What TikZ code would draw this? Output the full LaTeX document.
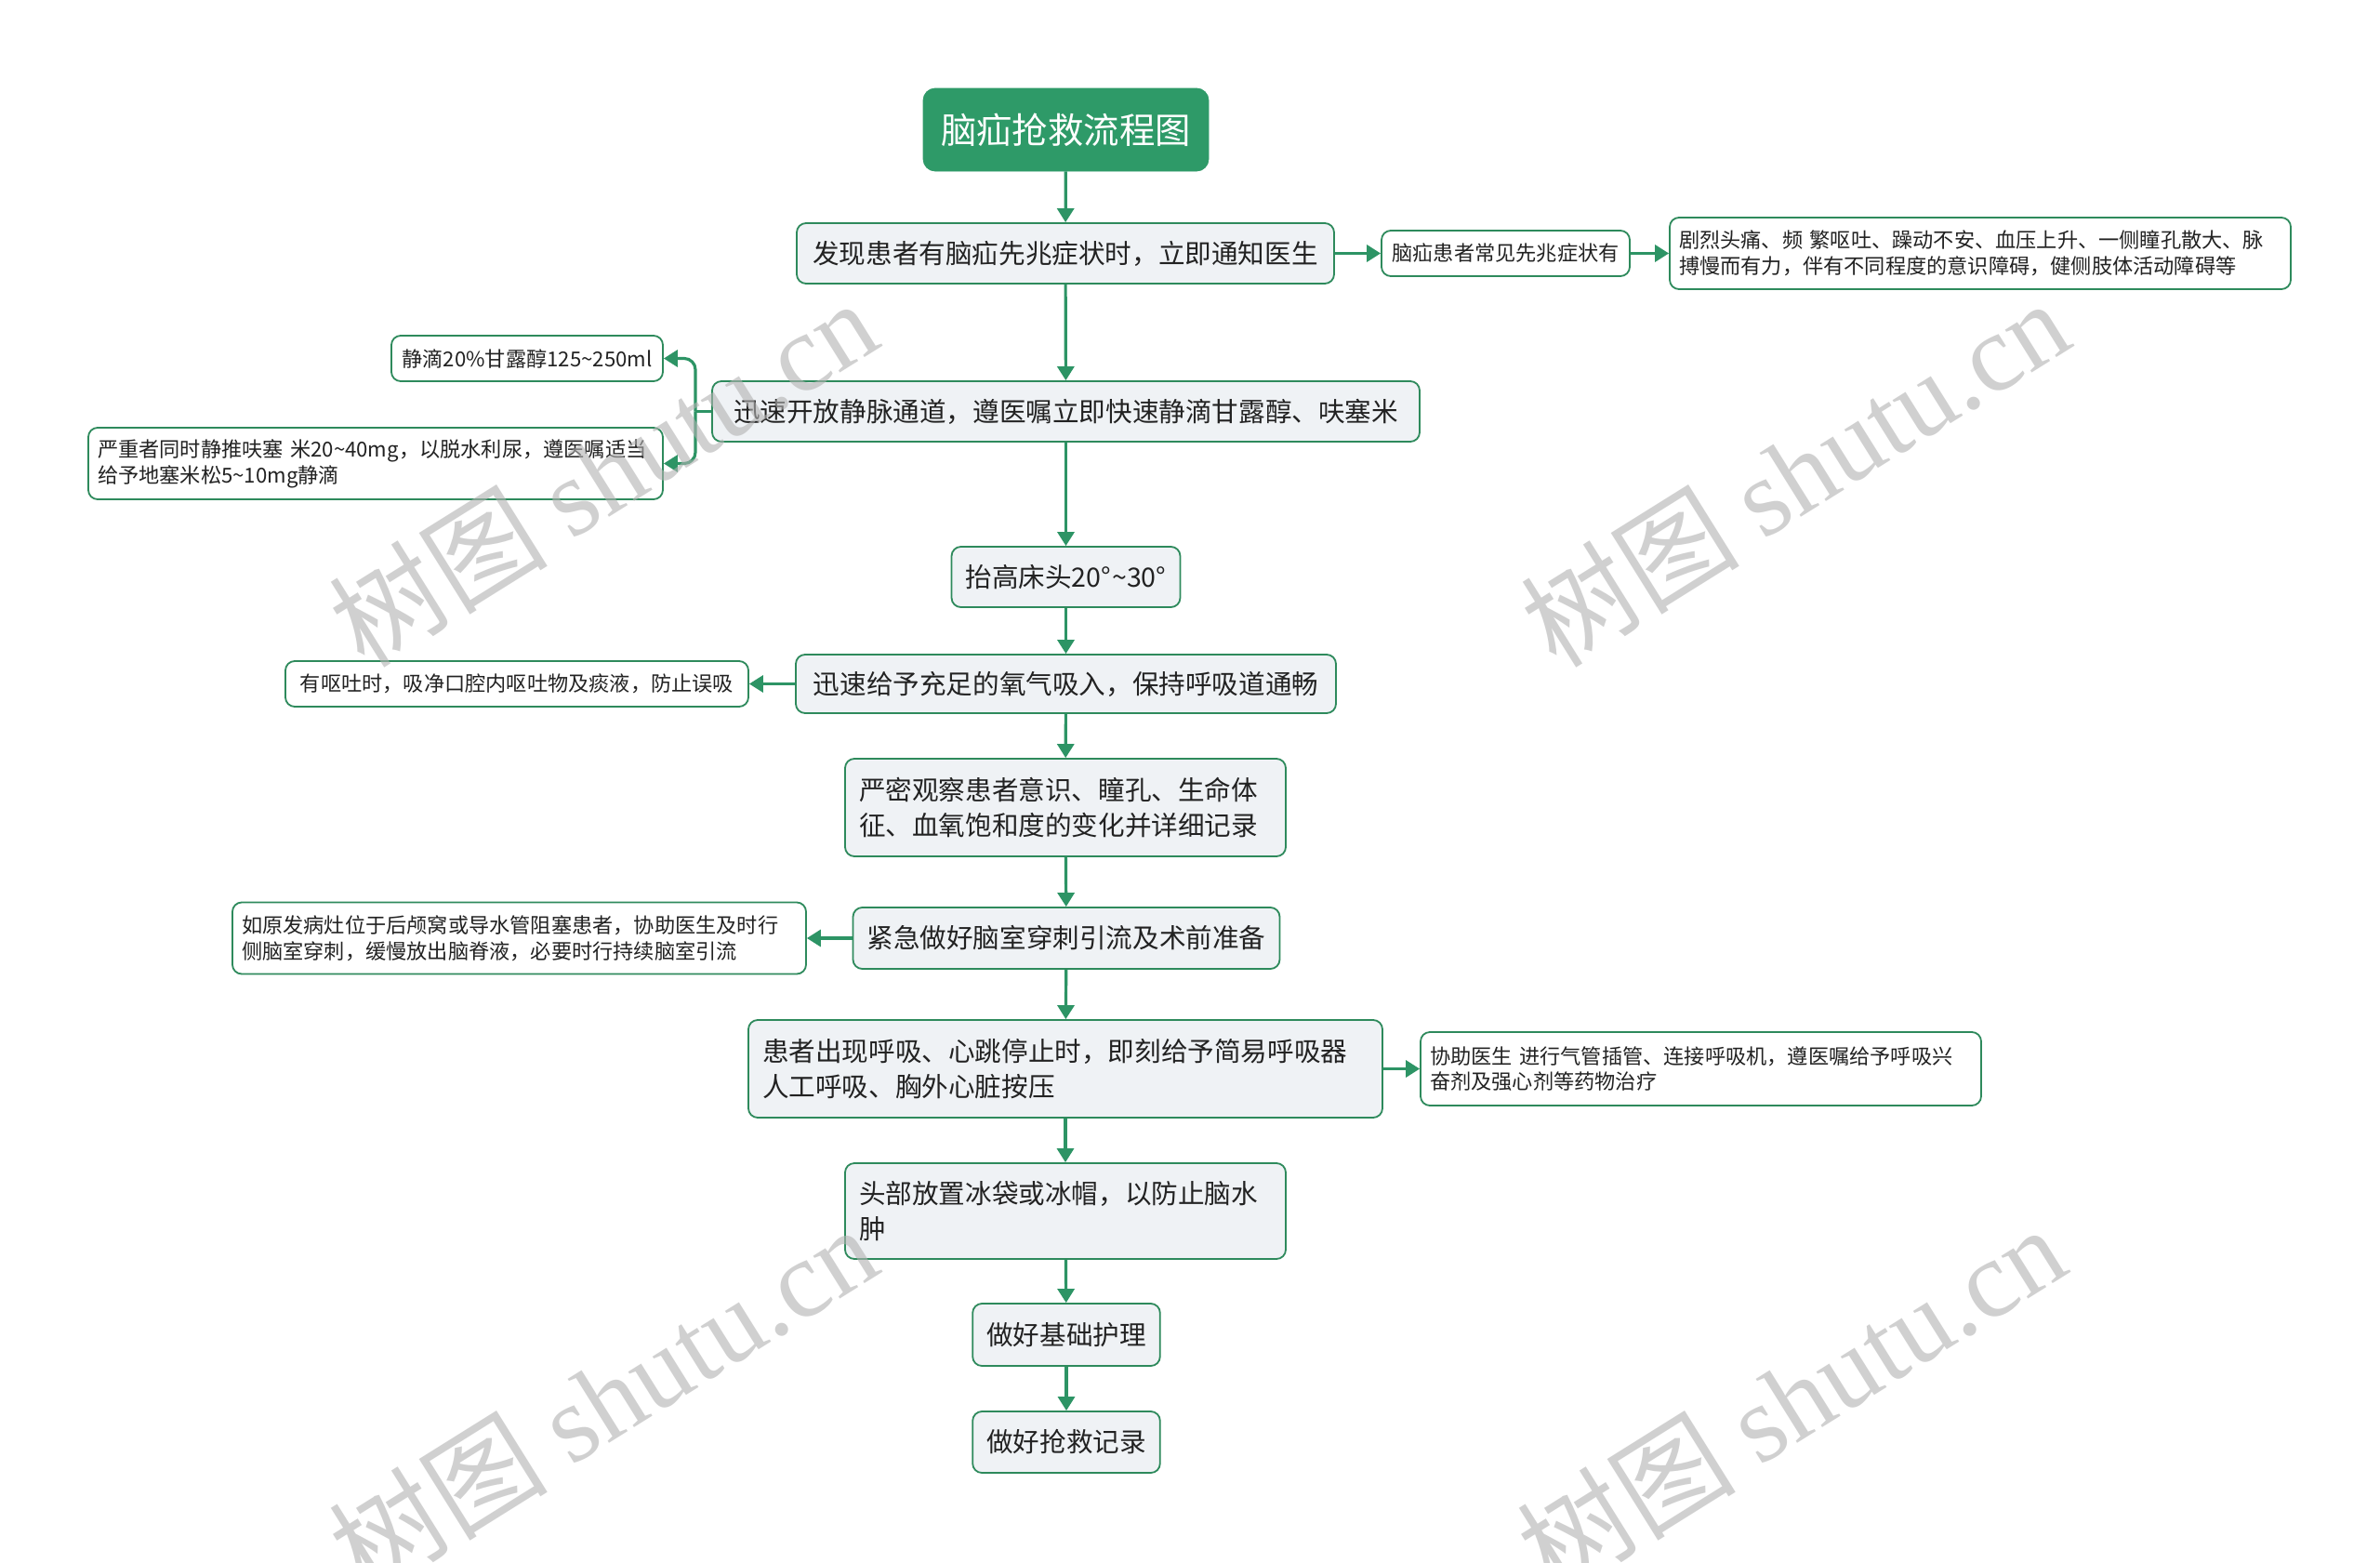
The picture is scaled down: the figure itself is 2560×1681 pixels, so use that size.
\documentclass[tikz,border=0pt]{standalone}
\usepackage{fontspec}
\setmainfont{Noto Sans CJK SC}
\newfontfamily\wmlat{Liberation Serif}
\usetikzlibrary{arrows.meta}
\definecolor{gline}{HTML}{2D9465}
\definecolor{gborder}{HTML}{2E8A5C}
\definecolor{gtitle}{HTML}{2E9A68}
\definecolor{mainfill}{HTML}{EFF2F5}
\definecolor{txt}{HTML}{222222}
\tikzset{
  basebox/.style={draw=gborder, line width=0.9pt, rounded corners=5pt, text=txt, inner ysep=0pt},
  mainbox/.style={basebox, fill=mainfill, font=\fontsize{14.3}{18.8}\selectfont, inner xsep=7.5pt},
  smallbox/.style={basebox, fill=white, font=\fontsize{11.1}{13.9}\selectfont, inner xsep=5pt},
  titlebox/.style={fill=gtitle, draw=gtitle, rounded corners=6.5pt, text=white, font=\fontsize{19.2}{22}\selectfont},
  conn/.style={draw=gline, line width=1.6pt, -{Triangle[length=7.5pt,width=9pt]}},
  plainline/.style={draw=gline, line width=1.6pt},
  wmark/.style={text=black!30, opacity=0.6, rotate=32, font=\fontsize{59}{59}\selectfont}
}
\begin{document}
\begin{tikzpicture}[x=0.5pt,y=-0.5pt]
\path[use as bounding box, fill=white] (0,0) rectangle (2560,1681);
\clip (0,0) rectangle (2560,1681);

% title
\node[titlebox, minimum width=153.5pt, minimum height=44.5pt] (title) at (1146.5,139.5) {脑疝抢救流程图};

% main column
\node[mainbox, minimum width=289pt, minimum height=32.5pt] (b1) at (1146,272.5) {发现患者有脑疝先兆症状时，立即通知医生};
\node[mainbox, minimum width=380.5pt, minimum height=32.5pt] (b2) at (1146.5,442.5) {迅速开放静脉通道，遵医嘱立即快速静滴甘露醇、呋塞米};
\node[mainbox, minimum width=122.5pt, minimum height=32.5pt] (b3) at (1146.5,620.5) {抬高床头20°\kern0.5pt\textasciitilde30°};
\node[mainbox, minimum width=290.5pt, minimum height=31.5pt] (b4) at (1146.5,735.5) {迅速给予充足的氧气吸入，保持呼吸道通畅};
\node[mainbox, minimum width=237pt, minimum height=52.5pt, text width=222pt, align=left] (b5) at (1146,868.5) {严密观察患者意识、瞳孔、生命体\\征、血氧饱和度的变化并详细记录};
\node[mainbox, minimum width=229pt, minimum height=33pt] (b6) at (1147,1009) {紧急做好脑室穿刺引流及术前准备};
\node[mainbox, minimum width=341pt, minimum height=52.5pt, text width=326pt, align=left] (b7) at (1146,1149.5) {患者出现呼吸、心跳停止时，即刻给予简易呼吸器\\人工呼吸、胸外心脏按压};
\node[mainbox, minimum width=237pt, minimum height=51.5pt, text width=222pt, align=left] (b8) at (1146,1302.5) {头部放置冰袋或冰帽，以防止脑水\\肿};
\node[mainbox, minimum width=100pt, minimum height=33.5pt] (b9) at (1147,1435.5) {做好基础护理};
\node[mainbox, minimum width=100pt, minimum height=33pt] (b10) at (1147,1551) {做好抢救记录};

% side boxes
\node[smallbox, minimum width=133.5pt, minimum height=24.5pt] (sa) at (1619.5,272.5) {脑疝患者常见先兆症状有};
\node[smallbox, minimum width=334pt, minimum height=38.5pt, text width=324pt, align=left] (sb) at (2130,272.5) {剧烈头痛、频~繁呕吐、躁动不安、血压上升、一侧瞳孔散大、脉\\搏慢而有力，伴有不同程度的意识障碍，健侧肢体活动障碍等};
\node[smallbox, minimum width=146pt, minimum height=24.5pt] (l1) at (567,385.5) {静滴20\%甘露醇125\textasciitilde250ml};
\node[smallbox, minimum width=309pt, minimum height=38.5pt, text width=299pt, align=left] (l2) at (404,498.5) {严重者同时静推呋塞~米20\textasciitilde40mg，以脱水利尿，遵医嘱适当\\给予地塞米松5\textasciitilde10mg静滴};
\node[smallbox, minimum width=249pt, minimum height=24.5pt] (l3) at (556,735.5) {有呕吐时，吸净口腔内呕吐物及痰液，防止误吸};
\node[smallbox, minimum width=308.5pt, minimum height=38.5pt, text width=298.5pt, align=left] (l4) at (558.5,1009) {如原发病灶位于后颅窝或导水管阻塞患者，协助医生及时行\\侧脑室穿刺，缓慢放出脑脊液，必要时行持续脑室引流};
\node[smallbox, minimum width=301.5pt, minimum height=39.5pt, text width=291.5pt, align=left] (r7) at (1829.5,1149.5) {协助医生~进行气管插管、连接呼吸机，遵医嘱给予呼吸兴\\奋剂及强心剂等药物治疗};

% connectors
\draw[conn] (title) -- (b1);
\draw[conn] (b1) -- (b2);
\draw[conn] (b2) -- (b3);
\draw[conn] (b3) -- (b4);
\draw[conn] (b4) -- (b5);
\draw[conn] (b5) -- (b6);
\draw[conn] (b6) -- (b7);
\draw[conn] (b7) -- (b8);
\draw[conn] (b8) -- (b9);
\draw[conn] (b9) -- (b10);
\draw[conn] (b1) -- (sa);
\draw[conn] (sa) -- (sb);
\draw[conn] (b4) -- (l3);
\draw[conn] (b6) -- (l4);
\draw[conn] (b7) -- (r7);
\coordinate (j) at (748,442.5);
\draw[plainline] (b2.west) -- (j);
\draw[conn, rounded corners=6pt] (j) |- (l1.east);
\draw[conn, rounded corners=6pt] (j) |- (l2.east);

% watermarks
\node[wmark] (w1) at (648,508) {树图~{\wmlat shutu.cn}};
\node[wmark] (w2) at (1930,508) {树图~{\wmlat shutu.cn}};
\node[wmark] (w3) at (648,1504) {树图~{\wmlat shutu.cn}};
\node[wmark] (w4) at (1926,1504) {树图~{\wmlat shutu.cn}};
\end{tikzpicture}
\end{document}
